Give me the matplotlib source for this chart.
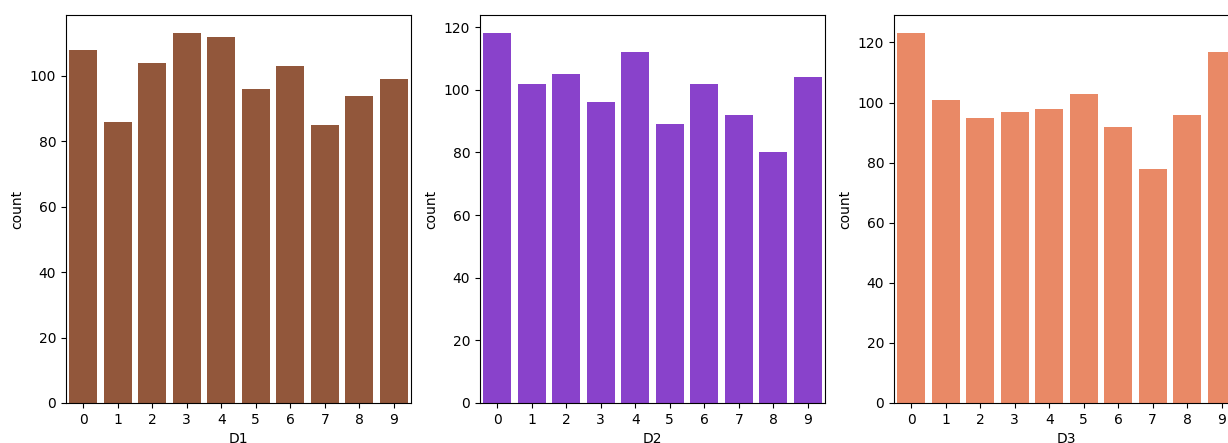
import matplotlib
matplotlib.use("Agg")
import matplotlib.pyplot as plt
import seaborn as sns

digits = list(range(10))
d1_counts = [108, 86, 104, 113, 112, 96, 103, 85, 94, 99]
d2_counts = [118, 102, 105, 96, 112, 89, 102, 92, 80, 104]
d3_counts = [123, 101, 95, 97, 98, 103, 92, 78, 96, 117]
names = ["D1", "D2", "D3"]
base_colors = ["sienna", "blueviolet", "coral"]

W, H = 1228, 443
fig = plt.figure(figsize=(W / 100, H / 100), dpi=100)

lefts = [66, 480, 894]
for i, counts in enumerate([d1_counts, d2_counts, d3_counts]):
    ax = fig.add_axes([lefts[i] / W, (H - 403) / H, 345 / W, 388 / H])
    # seaborn countplot desaturates the colour by 0.75
    ax.bar(digits, counts, width=0.8, color=sns.desaturate(base_colors[i], 0.75))
    ax.set_xlim(-0.5, 9.5)
    ax.set_ylim(0, max(counts) * 1.05)
    ax.set_xticks(digits)
    ax.set_xlabel(names[i])
    ax.set_ylabel("count")

fig.savefig("out.png", dpi=100)
